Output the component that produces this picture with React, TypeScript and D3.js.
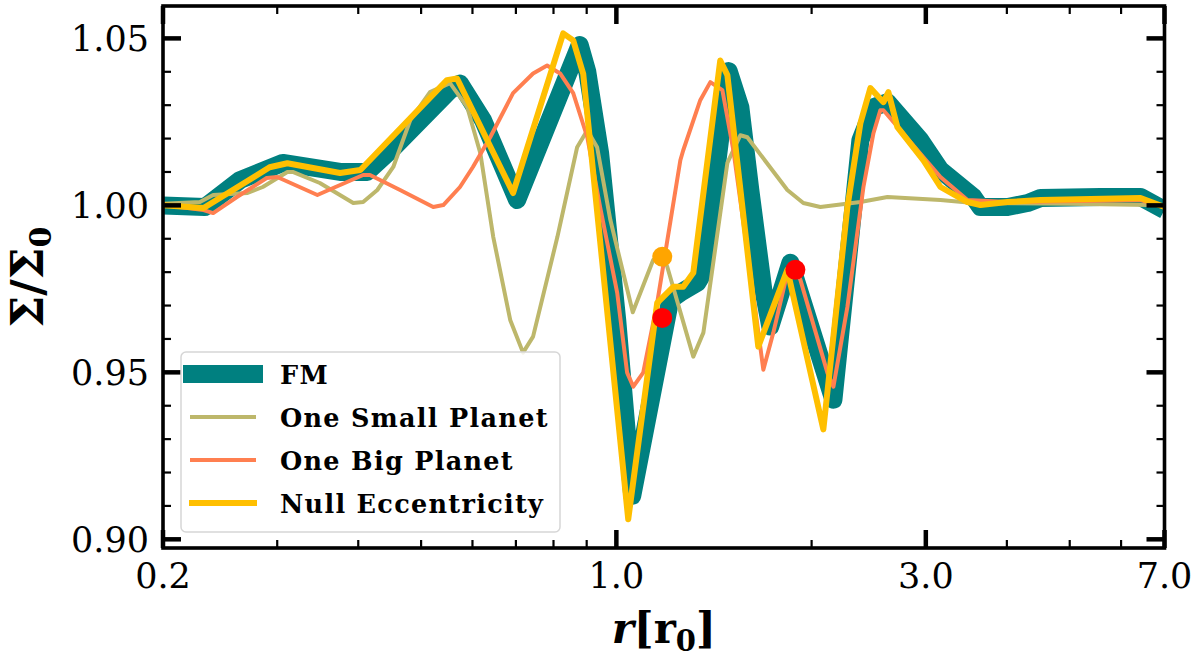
import React from 'react';
import * as d3 from 'd3';

type Pt = [number, number];

// FM (thick teal)
const fmData: Pt[] = [
  [0.2, 1.0], [0.232, 0.9995], [0.263, 1.0076], [0.306, 1.0127], [0.375, 1.01], [0.413, 1.01],
  [0.453, 1.0172], [0.554, 1.0345], [0.574, 1.0365], [0.623, 1.0255], [0.703, 1.0016],
  [0.878, 1.048], [0.902, 1.04], [0.944, 1.0156], [1.003, 0.9657], [1.058, 0.913],
  [1.211, 0.9717], [1.255, 0.9738], [1.333, 0.9768], [1.362, 0.9798], [1.49, 1.0402],
  [1.553, 1.0294], [1.609, 1.0046], [1.685, 0.9747], [1.727, 0.9637], [1.855, 0.9828],
  [2.161, 0.9418], [2.378, 1.0195], [2.491, 1.0294], [2.618, 1.0309], [2.943, 1.0195],
  [3.16, 1.0106], [3.553, 1.0025], [3.642, 0.9995], [4.009, 0.9995], [4.304, 1.0007],
  [4.508, 1.0022], [5.578, 1.0025], [6.43, 1.0025], [7.0, 0.9986],
];

// One Small Planet (olive)
const smallData: Pt[] = [
  [0.2, 1.0005], [0.228, 1.001], [0.239, 1.0031], [0.27, 1.0037], [0.285, 1.0055], [0.311, 1.01],
  [0.317, 1.01], [0.349, 1.0067], [0.393, 1.0007], [0.407, 1.001], [0.428, 1.0046], [0.453, 1.0115],
  [0.481, 1.0255], [0.516, 1.0339], [0.554, 1.0366], [0.589, 1.0294], [0.617, 1.0156],
  [0.646, 0.9905], [0.686, 0.9657], [0.718, 0.9559], [0.744, 0.9607], [0.811, 0.9905],
  [0.87, 1.0174], [0.902, 1.0225], [0.934, 1.0174], [0.979, 0.9956], [1.06, 0.968],
  [1.14, 0.9837], [1.177, 0.985], [1.198, 0.9816], [1.314, 0.9547], [1.362, 0.9619],
  [1.483, 1.0127], [1.553, 1.021], [1.592, 1.0204], [1.835, 1.0046], [1.942, 1.0007],
  [2.063, 0.9995], [2.378, 1.001], [2.618, 1.0025], [3.16, 1.0016], [3.553, 1.0007],
  [5.0, 1.0005], [7.0, 1.0],
];

// One Big Planet (coral)
const bigData: Pt[] = [
  [0.2, 1.0001], [0.231, 0.9986], [0.239, 0.9977], [0.26, 1.0025], [0.289, 1.0082], [0.3, 1.0085],
  [0.346, 1.0031], [0.366, 1.0052], [0.407, 1.0091], [0.417, 1.0091], [0.464, 1.0046],
  [0.522, 0.9995], [0.541, 1.0001], [0.574, 1.0055], [0.601, 1.0115], [0.639, 1.0204],
  [0.693, 1.0336], [0.744, 1.0395], [0.782, 1.0419], [0.819, 1.0395], [0.858, 1.0336],
  [0.902, 1.0204], [0.944, 0.9995], [1.003, 0.9738], [1.039, 0.9499], [1.062, 0.9457],
  [1.1, 0.9499], [1.156, 0.9708], [1.211, 0.995], [1.255, 1.0135], [1.268, 1.0165],
  [1.347, 1.0315], [1.396, 1.0369], [1.457, 1.0345], [1.515, 1.0165], [1.609, 0.9798],
  [1.685, 0.9508], [1.746, 0.9619], [1.835, 0.9798], [1.888, 0.9807], [1.922, 0.9777],
  [2.115, 0.9499], [2.161, 0.9457], [2.271, 0.9696], [2.404, 1.0055], [2.491, 1.0216],
  [2.553, 1.0285], [2.581, 1.0285], [2.975, 1.0144], [3.16, 1.0085], [3.478, 1.0016],
  [4.009, 1.001], [6.43, 1.0016], [7.0, 0.9995],
];

// Null Eccentricity (amber)
const nullData: Pt[] = [
  [0.2, 1.0], [0.231, 0.9992], [0.292, 1.0114], [0.311, 1.0126], [0.375, 1.0097], [0.403, 1.0106],
  [0.548, 1.0375], [0.568, 1.038], [0.693, 1.0037], [0.828, 1.0515], [0.858, 1.0494],
  [0.889, 1.0394], [1.043, 0.906], [1.156, 0.9708], [1.224, 0.9756], [1.268, 0.9756],
  [1.314, 0.9798], [1.446, 1.0434], [1.483, 1.039], [1.655, 0.9577], [1.835, 0.9807],
  [2.085, 0.9329], [2.271, 0.9995], [2.378, 1.0246], [2.464, 1.0351], [2.581, 1.0309],
  [2.627, 1.0339], [2.712, 1.0234], [2.975, 1.0135], [3.16, 1.0055], [3.478, 1.001],
  [3.642, 1.0001], [4.009, 1.001], [4.508, 1.0016], [6.43, 1.0022], [7.0, 0.9995],
];

const orangeMarkers: Pt[] = [[1.177, 0.9846]];
const redMarkers: Pt[] = [[1.177, 0.9663], [1.888, 0.9807]];

const xMajorTicks = [0.2, 1.0, 3.0, 7.0];
const xTickLabels = ['0.2', '1.0', '3.0', '7.0'];
const xMinorTicks = [0.3, 0.4, 0.5, 0.6, 0.7, 0.8, 0.9, 2, 4, 5, 6];
const yMajorTicks = [0.9, 0.95, 1.0, 1.05];
const yTickLabels = ['0.90', '0.95', '1.00', '1.05'];
const yMinorTicks = [0.91, 0.92, 0.93, 0.94, 0.96, 0.97, 0.98, 0.99, 1.01, 1.02, 1.03, 1.04];

const seriesNames = ['FM', 'One Small Planet', 'One Big Planet', 'Null Eccentricity'];
const seriesColors = ['#008080', '#BDB76B', '#FF7F50', '#FFBF00'];
const seriesWidths = [18, 4, 4, 6];

const W = 1200;
const H = 664;
const L = 163;
const R = 1164.5;
const T = 6;
const B = 548;

export default function App() {
  const x = d3.scaleLog().domain([0.2, 7.0]).range([L, R]);
  const y = d3.scaleLinear().domain([0.8974, 1.0597]).range([B, T]);
  const line = d3
    .line<Pt>()
    .x((d) => x(d[0]))
    .y((d) => y(d[1]));
  const allSeries = [fmData, smallData, bigData, nullData];

  const serif = "'DejaVu Serif', serif";
  const majLen = 18;
  const minLen = 8;

  return (
    <svg
      width={W}
      height={H}
      style={{ position: 'absolute', left: 0, top: 0, background: '#fff' }}
    >
      <defs>
        <clipPath id="plotclip">
          <rect x={L} y={T} width={R - L} height={B - T} />
        </clipPath>
      </defs>
      <rect x={0} y={0} width={W} height={H} fill="#fff" />
      <g clipPath="url(#plotclip)">
        {allSeries.map((s, i) => (
          <path
            key={i}
            d={line(s) || ''}
            fill="none"
            stroke={seriesColors[i]}
            strokeWidth={seriesWidths[i]}
            strokeLinejoin="round"
          />
        ))}
        {orangeMarkers.map((m, i) => (
          <circle key={'o' + i} cx={x(m[0])} cy={y(m[1])} r={10} fill="#FFA500" />
        ))}
        {redMarkers.map((m, i) => (
          <circle key={'r' + i} cx={x(m[0])} cy={y(m[1])} r={10} fill="#FF0000" />
        ))}
      </g>

      {/* ticks */}
      <g stroke="#000">
        {xMajorTicks.map((t, i) => (
          <g key={'xM' + i}>
            <line x1={x(t)} x2={x(t)} y1={B} y2={B - majLen} strokeWidth={4.5} />
            <line x1={x(t)} x2={x(t)} y1={T} y2={T + majLen} strokeWidth={4.5} />
          </g>
        ))}
        {xMinorTicks.map((t, i) => (
          <g key={'xm' + i}>
            <line x1={x(t)} x2={x(t)} y1={B} y2={B - minLen} strokeWidth={2.2} />
            <line x1={x(t)} x2={x(t)} y1={T} y2={T + minLen} strokeWidth={2.2} />
          </g>
        ))}
        {yMajorTicks.map((t, i) => (
          <g key={'yM' + i}>
            <line x1={L} x2={L + majLen} y1={y(t)} y2={y(t)} strokeWidth={4.5} />
            <line x1={R} x2={R - majLen} y1={y(t)} y2={y(t)} strokeWidth={4.5} />
          </g>
        ))}
        {yMinorTicks.map((t, i) => (
          <g key={'ym' + i}>
            <line x1={L} x2={L + minLen} y1={y(t)} y2={y(t)} strokeWidth={2.2} />
            <line x1={R} x2={R - minLen} y1={y(t)} y2={y(t)} strokeWidth={2.2} />
          </g>
        ))}
      </g>
      <rect x={L} y={T} width={R - L} height={B - T} fill="none" stroke="#000" strokeWidth={3.6} />

      {/* tick labels */}
      <g fontFamily={serif} fontSize={35} fill="#000">
        {xMajorTicks.map((t, i) => (
          <text key={'xl' + i} x={x(t)} y={588} textAnchor="middle">
            {xTickLabels[i]}
          </text>
        ))}
        {yMajorTicks.map((t, i) => (
          <text key={'yl' + i} x={149} y={y(t) + 12.7} textAnchor="end">
            {yTickLabels[i]}
          </text>
        ))}
      </g>

      {/* axis labels */}
      <text
        x={(L + R) / 2}
        y={643}
        textAnchor="middle"
        fontFamily={serif}
        fontWeight="bold"
        fontSize={42}
      >
        <tspan fontStyle="italic">r</tspan>
        <tspan>[r</tspan>
        <tspan fontSize={29} dy={8}>0</tspan>
        <tspan dy={-8}>]</tspan>
      </text>
      <text
        transform={`translate(43, ${(T + B) / 2}) rotate(-90)`}
        textAnchor="middle"
        fontFamily={serif}
        fontWeight="bold"
        fontSize={45}
      >
        <tspan>Σ/Σ</tspan>
        <tspan fontSize={30} dy={8}>0</tspan>
      </text>

      {/* legend */}
      <rect x={181} y={352} width={379} height={180} rx={5} fill="#fff" fillOpacity={0.85} stroke="#d6d6d6" strokeWidth={1.5} />
      {seriesNames.map((name, i) => {
        const ly = 374 + i * 43;
        return (
          <g key={'lg' + i}>
            <line x1={192} x2={254} y1={ly} y2={ly} stroke={seriesColors[i]} strokeWidth={seriesWidths[i]} strokeLinecap="square" />
            <text x={280} y={ly + 9.5} fontFamily={serif} fontWeight="bold" fontSize={25.5} letterSpacing={1.3}>
              {name}
            </text>
          </g>
        );
      })}
    </svg>
  );
}
